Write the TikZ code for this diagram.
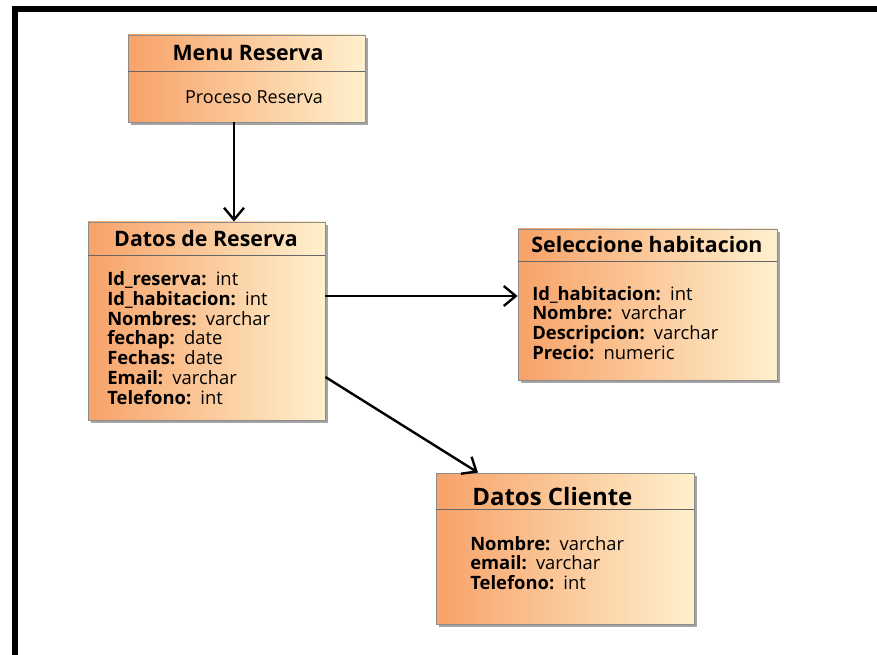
\documentclass[tikz,border=0pt]{standalone}
\usepackage{fontspec}
\setmainfont{Open Sans}
\usetikzlibrary{arrows.meta,fit,shadows}

\definecolor{boxleft}{RGB}{247,162,104}
\definecolor{boxmid}{RGB}{252,205,155}
\definecolor{boxright}{RGB}{255,240,205}

\tikzset{
	classbox/.style={rectangle, inner sep=0pt, draw=black!45, line width=0.6pt,
		left color=boxleft, middle color=boxmid, right color=boxright,
		drop shadow={shadow xshift=2pt, shadow yshift=-2pt, opacity=0.5, fill=black!70}},
	sepline/.style={draw=black!60, line width=0.7pt},
	title/.style={inner sep=0pt, font=\bfseries\fontsize{16}{18}\selectfont},
	attr/.style={inner sep=0pt, anchor=west, align=left, font=\fontsize{13.8}{14.85}\selectfont},
	link/.style={line width=1.8pt, -{Straight Barb[length=9pt,width=15pt]}},
	frame/.style={line width=4.5pt, line join=miter}
}

\begin{document}
\begin{tikzpicture}[x=0.75pt,y=-0.75pt]
		\useasboundingbox (0,0) rectangle (877,655);
		\draw[frame] (14.5,655) -- (14.5,9.5) -- (877,9.5);
		% corners of the class boxes
		\path (128,35) coordinate (menu_nw);
		\path (365,122) coordinate (menu_se);
		\path (88,222) coordinate (reserva_nw);
		\path (325,420) coordinate (reserva_se);
		\path (518,229) coordinate (habit_nw);
		\path (777,380) coordinate (habit_se);
		\path (436,473) coordinate (cliente_nw);
		\path (694,624) coordinate (cliente_se);
		% where the links leave and arrive
		\path (234,0) coordinate (down_x);
		\path (0,296) coordinate (call_y);
		\path (0,377) coordinate (diag_y);
		\path (478,0) coordinate (diag_x);

		\node (menu) [classbox, fit=(menu_nw)(menu_se)] {};
		\node (reserva) [classbox, fit=(reserva_nw)(reserva_se)] {};
		\node (habit) [classbox, fit=(habit_nw)(habit_se)] {};
		\node (cliente) [classbox, fit=(cliente_nw)(cliente_se)] {};

		\draw[sepline] (menu.west |- 0,71) -- (menu.east |- 0,71);
		\draw[sepline] (reserva.west |- 0,255) -- (reserva.east |- 0,255);
		\draw[sepline] (habit.west |- 0,261) -- (habit.east |- 0,261);
		\draw[sepline] (cliente.west |- 0,509) -- (cliente.east |- 0,509);

		\path (248,53) node(menu_title) [title] {Menu Reserva};
		\path (254,97) node(menu_op) [attr, anchor=center, font=\fontsize{13.5}{15}\selectfont] {Proceso Reserva};

		\path (206,239) node(reserva_title) [title] {Datos de Reserva};
		\path (107,338) node(reserva_attr) [attr] {\textbf{Id\_reserva:}\enspace int\\
			\textbf{Id\_habitacion:}\enspace int\\
			\textbf{Nombres:}\enspace varchar\\
			\textbf{fechap:}\enspace date\\
			\textbf{Fechas:}\enspace date\\
			\textbf{Email:}\enspace varchar\\
			\textbf{Telefono:}\enspace int};

		\path (647,245) node(habit_title) [title] {Seleccione habitacion};
		\path (532,323) node(habit_attr) [attr] {\textbf{Id\_habitacion:}\enspace int\\
			\textbf{Nombre:}\enspace varchar\\
			\textbf{Descripcion:}\enspace varchar\\
			\textbf{Precio:}\enspace numeric};

		\path (472,496) node(cliente_title) [title, anchor=west, font=\bfseries\fontsize{18}{20}\selectfont] {Datos Cliente};
		\path (470,563) node(cliente_attr) [attr] {\textbf{Nombre:}\enspace varchar\\
			\textbf{email:}\enspace varchar\\
			\textbf{Telefono:}\enspace int};

		\draw[link] (menu.south -| down_x) -- (reserva.north -| down_x);
		\draw[link] (reserva.east |- call_y) -- (habit.west |- call_y);
		\draw[link] (reserva.east |- diag_y) -- (cliente.north -| diag_x);
	\end{tikzpicture}
\end{document}
